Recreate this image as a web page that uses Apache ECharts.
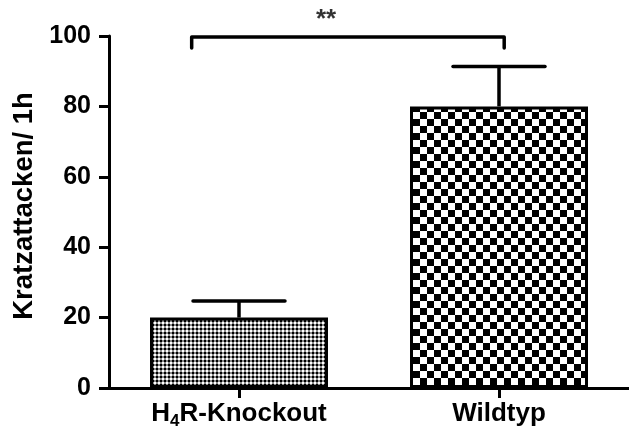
<!DOCTYPE html>
<html>
<head>
<meta charset="utf-8">
<script src="https://cdn.jsdelivr.net/npm/echarts@6/dist/echarts.min.js"></script>
<style>
html,body{margin:0;padding:0;background:#fff;}
#chart{width:629px;height:432px;}
</style>
</head>
<body>
<div id="chart"></div>
<script>
// ---- data ----
const categories = ['H₄R-Knockout', 'Wildtyp'];
const means = [20, 80];
const sem = [4.7, 11.3];
const yTicks = [0, 20, 40, 60, 80, 100];
const yTitle = 'Kratzattacken/ 1h';
const sigLabel = '**';
// bracket in (position along x, value) — x in category units (0..2)
const bracketX = [0.318, 1.52];
const bracketY = [96.6, 99.7];
const starPos = [0.835, 104.5];

const FONT = '"Liberation Sans", Arial, Helvetica, sans-serif';

function makePattern(size, draw) {
  const c = document.createElement('canvas');
  c.width = size; c.height = size;
  const g = c.getContext('2d');
  draw(g, size);
  return { image: c, repeat: 'repeat' };
}
const stipple = makePattern(4, (g) => {
  g.fillStyle = '#8c8c8c'; g.fillRect(0, 0, 4, 4);
  g.fillStyle = '#000'; g.fillRect(0, 0, 2, 2);
  g.fillStyle = '#fff'; g.fillRect(2, 2, 2, 2);
});
const checker = makePattern(14, (g, s) => {
  g.fillStyle = '#fff'; g.fillRect(0, 0, s, s);
  g.fillStyle = '#000';
  g.fillRect(0, 0, s / 2, s / 2);
  g.fillRect(s / 2, s / 2, s / 2, s / 2);
});
const fills = [stipple, checker];

const chart = echarts.init(document.getElementById('chart'), null, { renderer: 'canvas' });

const option = {
  backgroundColor: '#fff',
  animation: false,
  grid: { left: 109, right: -5, top: 36, bottom: 44, containLabel: false },
  xAxis: [
    {
      type: 'category',
      data: categories,
      boundaryGap: true,
      axisLine: { show: true, lineStyle: { color: '#000', width: 3 } },
      axisTick: { show: true, alignWithLabel: true, length: 10, lineStyle: { color: '#000', width: 3 } },
      axisLabel: {
        interval: 0,
        color: '#000', fontFamily: FONT, fontWeight: 'bold', fontSize: 26, lineHeight: 32, margin: 10,
        formatter: (v) => v.indexOf('₄') >= 0 ? v.split('₄').map((p, i) => (i ? '{s|4}' : '') + '{b|' + p + '}').join('') : v,
        rich: {
          b: { color: '#000', fontFamily: FONT, fontWeight: 'bold', fontSize: 26, lineHeight: 32 },
          s: { color: '#000', fontFamily: FONT, fontWeight: 'bold', fontSize: 17, lineHeight: 17, verticalAlign: 'bottom' }
        }
      },
      splitLine: { show: false }
    },
    {
      type: 'value', min: 0, max: 2, show: false
    }
  ],
  yAxis: {
    type: 'value',
    offset: 3,
    min: yTicks[0], max: yTicks[yTicks.length - 1], interval: 20,
    name: yTitle,
    nameLocation: 'middle',
    nameGap: 64,
    nameTextStyle: { color: '#000', fontFamily: FONT, fontWeight: 'bold', fontSize: 27.5, padding: [0, 0, 0, 12] },
    axisLine: { show: true, lineStyle: { color: '#000', width: 3 } },
    axisTick: { show: true, length: 10, lineStyle: { color: '#000', width: 3 } },
    axisLabel: { color: '#000', fontFamily: FONT, fontWeight: 'bold', fontSize: 25, margin: 15 },
    splitLine: { show: false }
  },
  series: [
    {
      type: 'bar',
      barWidth: 178,
      data: means.map((v, i) => ({ value: v, itemStyle: { color: fills[i], borderColor: '#000', borderWidth: 3 } })),
      z: 2
    },
    {
      type: 'custom',
      xAxisIndex: 0,
      renderItem: (params, api) => {
        const i = api.value(0);
        const lo = api.coord([i, api.value(1)]);
        const hi = api.coord([i, api.value(2)]);
        const hw = 46;
        return {
          type: 'group',
          children: [
            { type: 'line', shape: { x1: lo[0], y1: lo[1], x2: hi[0], y2: hi[1] }, style: { stroke: '#000', lineWidth: 3.5 } },
            { type: 'line', shape: { x1: hi[0] - hw, y1: hi[1], x2: hi[0] + hw, y2: hi[1] }, style: { stroke: '#000', lineWidth: 3.5, lineCap: 'round' } }
          ]
        };
      },
      data: means.map((m, i) => [i, m, m + sem[i]]),
      z: 3
    },
    {
      type: 'line',
      xAxisIndex: 1,
      clip: false,
      symbol: 'none',
      lineStyle: { color: '#000', width: 3.5, cap: 'round', join: 'round' },
      data: [[bracketX[0], bracketY[0]], [bracketX[0], bracketY[1]], [bracketX[1], bracketY[1]], [bracketX[1], bracketY[0]]],
      z: 4
    },
    {
      type: 'scatter',
      xAxisIndex: 1,
      clip: false,
      symbolSize: 1,
      itemStyle: { color: 'rgba(0,0,0,0)' },
      label: { show: true, position: 'inside', formatter: sigLabel, color: '#000', fontFamily: FONT, fontWeight: 'bold', fontSize: 26 },
      data: [starPos],
      z: 5
    }
  ]
};
chart.setOption(option);
</script>
</body>
</html>
